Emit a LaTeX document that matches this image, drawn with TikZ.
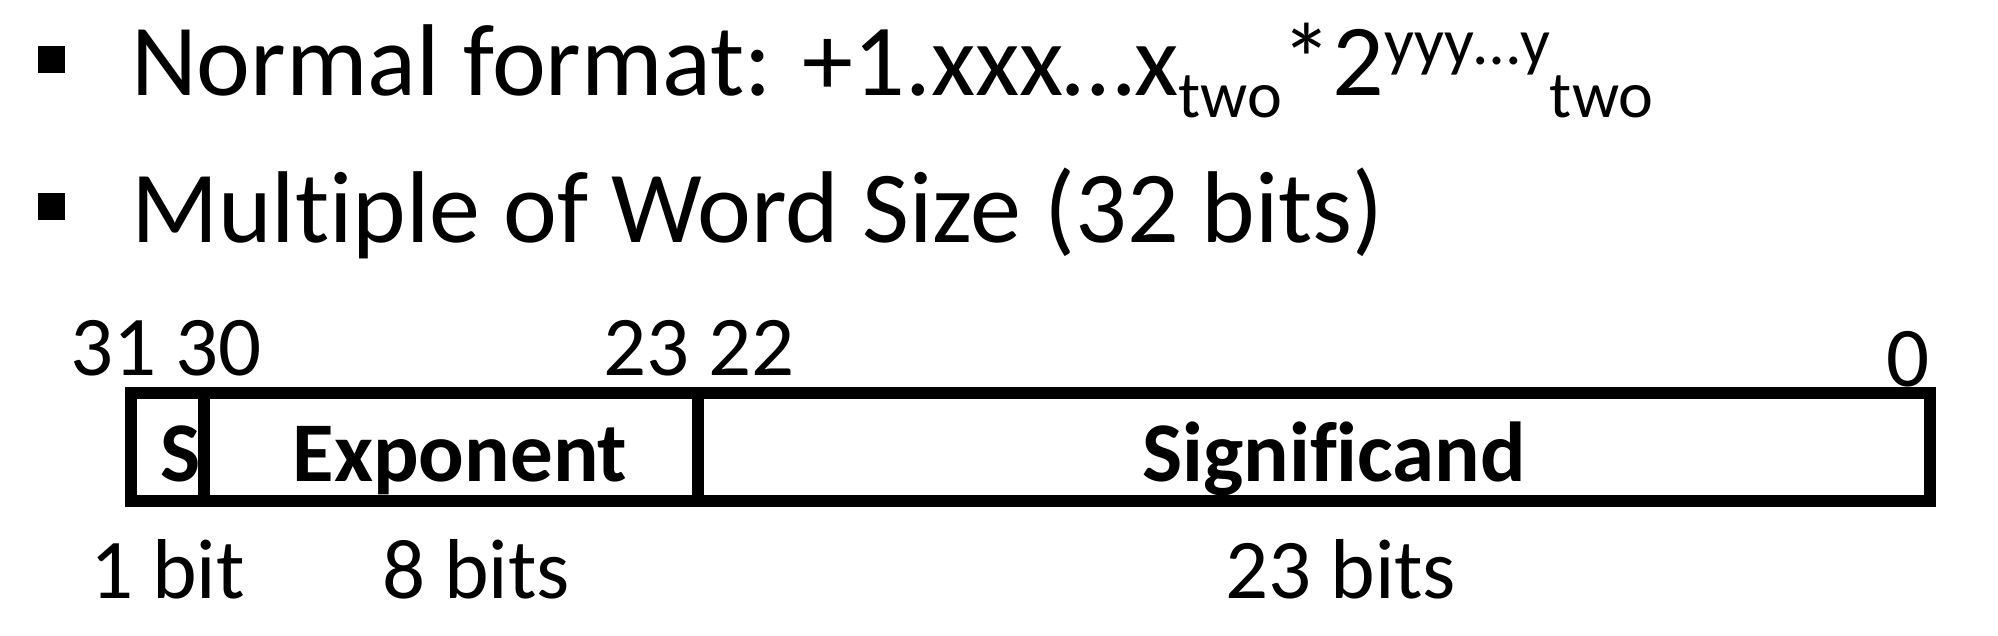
\documentclass[tikz,border=0pt]{standalone}
\usepackage{fontspec}
\setmainfont[Ligatures=NoCommon]{Carlito}
\newcommand{\lowtxt}[1]{\raisebox{-22pt}{\fontsize{66}{70}\selectfont #1}}
\newcommand{\hightxt}[1]{\raisebox{31pt}{\fontsize{66}{70}\selectfont #1}}
\begin{document}
\begin{tikzpicture}[
    x=1pt, y=-1pt,
    line width=12pt,
    bullet/.style={draw=none,fill=black,minimum size=27pt,inner sep=0pt},
    line/.style={font=\fontsize{102}{110}\selectfont,anchor=base west,inner sep=0pt},
    bitno/.style={font=\fontsize{85}{90}\selectfont,anchor=base west,inner sep=0pt},
    field/.style={font=\fontsize{85}{90}\selectfont\bfseries,anchor=base,inner sep=0pt},
    width/.style={font=\fontsize{85}{90}\selectfont,anchor=base west,inner sep=0pt}
]
\path[use as bounding box] (0,0) rectangle (1998,636);

\node[bullet] (b1) at (51,60) {};
\node[line] (fmt) at (125,96)
    {Normal format: +1.xxx…x\lowtxt{two}*2\hightxt{yyy…y}\lowtxt{two}};
\node[bullet] (b2) at (51,207) {};
\node[line] (word) at (125,243) {Multiple of Word Size (32 bits)};

% bit numbers above the word
\node[bitno] (n31) at (64,376) {31 30};
\node[bitno] (n23) at (597,376) {23 22};
\node[bitno] (n0) at (1880,387) {0};

% the 32-bit word
\coordinate (tl) at (131,393);
\coordinate (br) at (1930,501);
\draw (tl) rectangle (br);
\coordinate (d1t) at (204,393);
\coordinate (d1b) at (204,501);
\coordinate (d2t) at (698,393);
\coordinate (d2b) at (698,501);
\draw (d1t) -- (d1b);
\draw (d2t) -- (d2b);
\node[field] (sgn) at (181,481) {S};
\node[field] (exp) at (460,481) {Exponent};
\node[field] (sig) at (1334,481) {Significand};

\node[width] (w1) at (84,598) {1 bit};
\node[width] (w8) at (376,598) {8 bits};
\node[width] (w23) at (1219,598) {23 bits};
\end{tikzpicture}
\end{document}
